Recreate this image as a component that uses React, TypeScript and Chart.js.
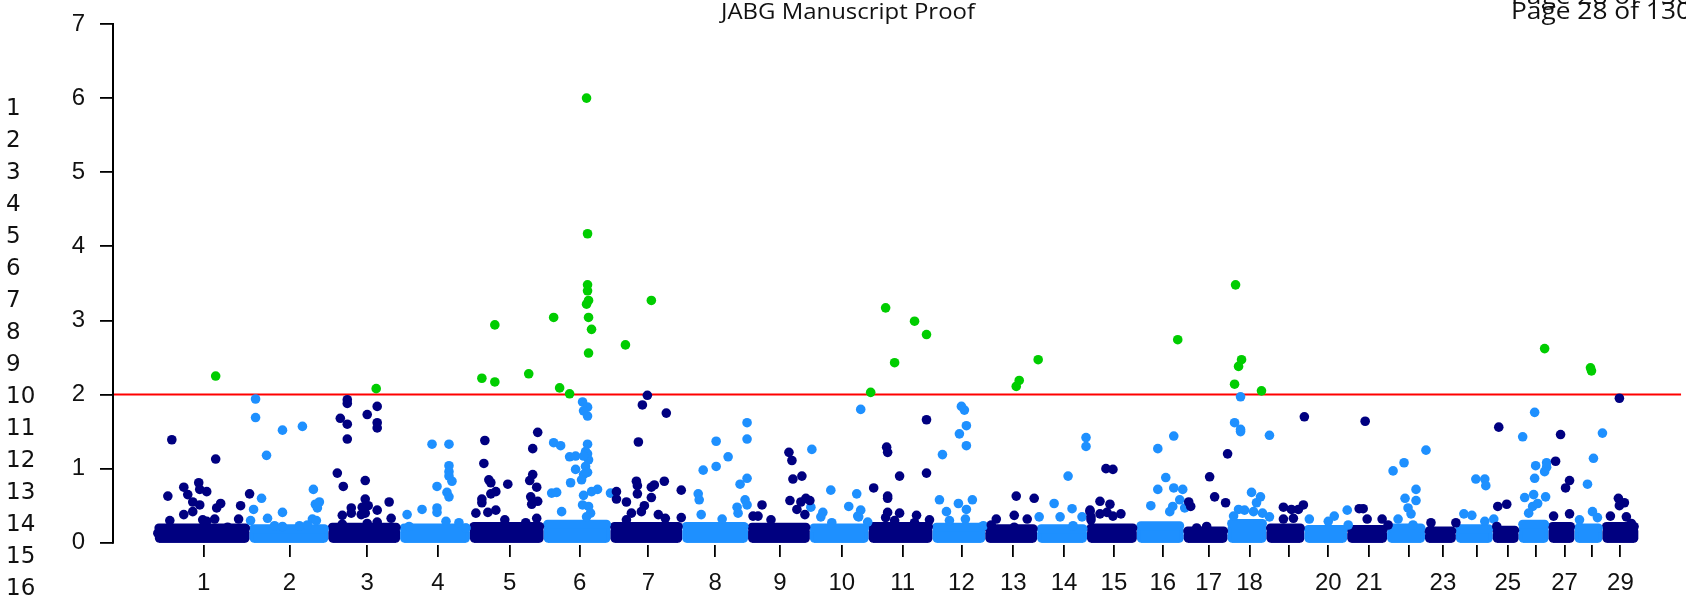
import React, { useEffect, useRef } from "react";
import { Chart, registerables } from "chart.js";

Chart.register(...registerables);

// ---------- data ----------
const CHROMOSOMES = ["1","2","3","4","5","6","7","8","9","10","11","12","13","14","15","16","17","18","19","20","21","22","23","24","25","26","27","28","29"];
// chromosome lengths on the cumulative position axis (arbitrary units)
const CHROM_LENGTHS = [95, 79, 72, 70, 74, 67, 72, 66, 62, 59, 64, 53, 52, 50, 50, 47, 44, 39, 38, 43, 40, 38, 31, 37, 26, 30, 26, 28, 36];
const TICK_POSITIONS = [49, 135, 213, 284, 356, 426, 495, 562, 627, 689, 750, 809, 861, 912, 962, 1011, 1057, 1098, 1137, 1177, 1218, 1258, 1292, 1326, 1357, 1385, 1414, 1441, 1470];
const TICK_LABELS = ["1","2","3","4","5","6","7","8","9","10","11","12","13","14","15","16","17","18","","20","21","","23","","25","","27","","29"];
// centre of the top row of the dense mass of non-significant SNPs per chromosome (-log10 p)
const BAND_TOP = [0.2, 0.19, 0.21, 0.2, 0.22, 0.25, 0.22, 0.22, 0.21, 0.2, 0.22, 0.21, 0.19, 0.19, 0.2, 0.23, 0.16, 0.26, 0.2, 0.18, 0.18, 0.2, 0.16, 0.19, 0.17, 0.25, 0.22, 0.2, 0.22];
const Y_TICKS = [0, 1, 2, 3, 4, 5, 6, 7];
const THRESHOLD = 2;
const LINE_NUMBERS = ["1","2","3","4","5","6","7","8","9","10","11","12","13","14","15","16"];
const HEADER = "JABG Manuscript Proof";
const PAGE_LABEL = "Page 28 of 130";

// individually visible SNPs per chromosome: [cumulative position, -log10 p]
const SNPS: number[][][] = [
  [[61,2.25],[17,1.39],[61,1.13],[13,0.63],[29,0.75],[33,0.65],[44,0.81],[45,0.72],[52,0.69],[38,0.55],[45,0.51],[66,0.53],[62,0.47],[95,0.66],[86,0.5],[84,0.32],[29,0.38],[38,0.42],[15,0.3],[48,0.31],[60,0.32],[52,0.29],[73,0.21],[3,0.13]],
  [[101,1.94],[101,1.69],[128,1.52],[148,1.57],[112,1.18],[159,0.72],[107,0.6],[99,0.45],[128,0.41],[161,0.52],[165,0.55],[163,0.47],[113,0.33],[96,0.3],[158,0.32],[162,0.3],[120,0.23],[128,0.22],[145,0.23],[153,0.24]],
  [[222,2.08],[193,1.93],[193,1.88],[223,1.84],[186,1.68],[213,1.73],[193,1.6],[223,1.62],[223,1.55],[193,1.4],[183,0.94],[211,0.84],[189,0.76],[235,0.55],[211,0.59],[197,0.47],[208,0.48],[214,0.5],[197,0.4],[223,0.44],[207,0.38],[188,0.37],[211,0.4],[188,0.25],[223,0.28],[237,0.33],[213,0.26]],
  [[278,1.33],[295,1.33],[295,1.04],[295,0.96],[295,0.9],[298,0.83],[283,0.76],[293,0.68],[295,0.62],[283,0.47],[283,0.41],[305,0.27],[292,0.29],[312,0.2],[268,0.45],[253,0.38],[255,0.22]],
  [[328,2.22],[341,2.17],[341,2.94],[375,2.28],[384,1.49],[331,1.38],[379,1.27],[330,1.07],[354,0.79],[335,0.85],[337,0.81],[342,0.69],[337,0.66],[328,0.59],[328,0.54],[379,0.92],[376,0.84],[383,0.75],[377,0.62],[384,0.56],[378,0.52],[322,0.4],[334,0.41],[342,0.44],[351,0.31],[372,0.27],[383,0.33]],
  [[433,6.0],[434,4.17],[434,3.48],[434,3.4],[435,3.27],[433,3.22],[400,3.04],[435,3.04],[438,2.88],[435,2.56],[406,2.09],[416,2.01],[429,1.9],[434,1.83],[430,1.78],[434,1.71],[400,1.35],[407,1.31],[434,1.33],[432,1.23],[434,1.2],[435,1.12],[430,1.17],[416,1.16],[422,1.17],[422,0.99],[432,1.03],[434,0.95],[430,0.92],[428,0.85],[417,0.81],[398,0.67],[403,0.68],[430,0.64],[438,0.69],[444,0.72],[408,0.42],[429,0.51],[435,0.49],[457,0.67],[437,0.4],[433,0.35]],
  [[498,3.27],[472,2.67],[494,1.99],[489,1.86],[513,1.75],[485,1.36],[483,0.83],[484,0.77],[484,0.66],[488,0.42],[498,0.75],[501,0.78],[511,0.83],[498,0.61],[491,0.5],[463,0.69],[463,0.59],[473,0.55],[478,0.4],[473,0.31],[528,0.71],[528,0.34],[505,0.38],[512,0.33]],
  [[594,1.62],[594,1.4],[563,1.37],[575,1.16],[563,1.03],[550,0.98],[594,0.87],[587,0.79],[545,0.66],[546,0.58],[592,0.58],[584,0.48],[594,0.51],[548,0.38],[569,0.32],[585,0.4]],
  [[636,1.22],[639,1.11],[649,0.9],[640,0.86],[637,0.57],[648,0.55],[653,0.6],[657,0.57],[609,0.51],[644,0.45],[600,0.36],[605,0.36],[618,0.31],[652,0.38]],
  [[659,1.26],[678,0.71],[704,0.66],[696,0.49],[708,0.44],[668,0.35],[670,0.41],[658,0.48],[708,1.8],[705,0.36],[679,0.27],[715,0.28],[706,0.35]],
  [[733,3.17],[762,2.99],[774,2.81],[742,2.43],[718,2.03],[774,1.66],[734,1.29],[735,1.22],[774,0.94],[747,0.9],[721,0.74],[735,0.63],[735,0.6],[735,0.41],[747,0.4],[733,0.34],[764,0.37],[742,0.3],[777,0.31],[762,0.27]],
  [[809,1.84],[812,1.79],[814,1.58],[807,1.47],[814,1.31],[790,1.19],[787,0.58],[806,0.53],[820,0.58],[794,0.42],[814,0.45],[797,0.3],[813,0.32],[831,0.23]],
  [[864,2.11],[867,2.19],[886,2.47],[864,0.63],[882,0.6],[862,0.37],[875,0.32],[844,0.32],[839,0.24],[862,0.21]],
  [[934,1.42],[934,1.3],[916,0.9],[902,0.53],[920,0.46],[887,0.35],[908,0.35],[930,0.35],[921,0.23]],
  [[954,1.0],[961,0.99],[948,0.56],[958,0.52],[938,0.42],[948,0.39],[955,0.41],[961,0.36],[969,0.39],[939,0.31],[938,0.44],[939,0.35]],
  [[1026,2.74],[1022,1.44],[1006,1.27],[1014,0.88],[1006,0.72],[1022,0.74],[1031,0.72],[1028,0.58],[999,0.5],[1021,0.49],[1018,0.42],[1033,0.47]],
  [[1076,1.2],[1058,0.89],[1063,0.62],[1074,0.54],[1037,0.55],[1039,0.49],[1055,0.22],[1045,0.2]],
  [[1084,3.48],[1090,2.47],[1087,2.38],[1083,2.14],[1110,2.05],[1089,1.97],[1083,1.62],[1089,1.53],[1089,1.5],[1118,1.45],[1100,0.68],[1109,0.62],[1105,0.54],[1087,0.45],[1093,0.44],[1102,0.42],[1111,0.4],[1118,0.35],[1082,0.36]],
  [[1153,1.7],[1132,0.48],[1140,0.45],[1147,0.45],[1152,0.51],[1132,0.32],[1142,0.33]],
  [[1196,0.44],[1183,0.36],[1177,0.29],[1158,0.32],[1197,0.24]],
  [[1214,1.64],[1208,0.46],[1212,0.46],[1216,0.32],[1231,0.32],[1237,0.24]],
  [[1275,1.25],[1253,1.08],[1242,0.97],[1265,0.72],[1254,0.6],[1265,0.57],[1257,0.47],[1260,0.39],[1247,0.32],[1262,0.24]],
  [[1280,0.27],[1305,0.27]],
  [[1325,0.86],[1334,0.86],[1335,0.77],[1313,0.39],[1321,0.37],[1343,0.32],[1334,0.29]],
  [[1348,1.56],[1347,0.49],[1356,0.52],[1346,0.22]],
  [[1394,2.62],[1384,1.76],[1372,1.43],[1385,1.04],[1384,0.87],[1394,0.96],[1396,1.02],[1396,1.08],[1374,0.61],[1383,0.65],[1395,0.62],[1382,0.49],[1387,0.53],[1378,0.4]],
  [[1410,1.46],[1405,1.1],[1419,0.84],[1415,0.74],[1403,0.36],[1419,0.39]],
  [[1440,2.36],[1441,2.32],[1452,1.48],[1443,1.14],[1437,0.79],[1442,0.42],[1447,0.34],[1429,0.31]],
  [[1469,1.95],[1468,0.6],[1474,0.54],[1469,0.5],[1460,0.36],[1476,0.35],[1481,0.26]],
];

const X_MIN = -42;
const X_MAX = 1531;

const NAVY = "#000080";
const LIGHT = "#1E90FF";
const GREEN = "#00CD00";
const AXIS_FONT = "'Liberation Sans', Arial, sans-serif";
const PAGE_FONT = "'Open Sans', 'Noto Sans', sans-serif";
const NUMBER_FONT = "'DejaVu Sans', sans-serif";

const chromColor = (i: number) => (i % 2 === 0 ? NAVY : LIGHT);

export default function App() {
  const ref = useRef<HTMLCanvasElement | null>(null);

  useEffect(() => {
    document.body.style.margin = "0";
    const canvas = ref.current!;
    const starts: number[] = [];
    let acc = 0;
    CHROM_LENGTHS.forEach((len) => { starts.push(acc); acc += len; });

    const navyPts: { x: number; y: number }[] = [];
    const lightPts: { x: number; y: number }[] = [];
    const greenPts: { x: number; y: number }[] = [];
    SNPS.forEach((list, ci) => {
      list.forEach(([x, y]) => {
        const p = { x, y };
        if (y > THRESHOLD) greenPts.push(p);
        else if (ci % 2 === 0) navyPts.push(p);
        else lightPts.push(p);
      });
    });

    const bandSets: any[] = CHROM_LENGTHS.map((len, i) => ({
      type: "line",
      label: "chr" + CHROMOSOMES[i],
      data: [{ x: starts[i] + 4, y: BAND_TOP[i] }, { x: starts[i] + len - 4, y: BAND_TOP[i] }],
      backgroundColor: chromColor(i),
      borderColor: chromColor(i),
      borderWidth: 9,
      borderCapStyle: "round",
      pointRadius: 0,
      fill: "origin",
      clip: false,
      order: 4,
    }));

    const pointStyle = { pointRadius: 4.8, pointHoverRadius: 4.8, pointBorderWidth: 0, borderWidth: 0, clip: false as any };

    const drawFitted = (ctx: any, text: string, x: number, yb: number, size: number, scaleX: number, align: string) => {
      ctx.save();
      ctx.font = `${size}px ${PAGE_FONT}`;
      ctx.textAlign = align;
      ctx.translate(x, yb);
      ctx.scale(scaleX, 1);
      ctx.fillText(text, 0, 0);
      ctx.restore();
    };

    const overlay = {
      id: "overlay",
      beforeDatasetsDraw(chart: any) {
        const { ctx, scales } = chart;
        const x = scales.x, y = scales.y;
        ctx.save();
        CHROM_LENGTHS.forEach((len, i) => {
          ctx.fillStyle = chromColor(i);
          const y0 = y.getPixelForValue(0);
          const yt = y.getPixelForValue(BAND_TOP[i]);
          const xl = x.getPixelForValue(starts[i]);
          const xr = x.getPixelForValue(starts[i] + len);
          ctx.beginPath();
          ctx.roundRect(xl, yt, xr - xl, y0 - yt, 4.5);
          ctx.fill();
        });
        ctx.restore();
      },
      afterDraw(chart: any) {
        const { ctx, scales } = chart;
        const y = scales.y;
        ctx.save();
        // y axis line from 0 to 7
        ctx.strokeStyle = "#000";
        ctx.lineWidth = 2;
        ctx.beginPath();
        ctx.moveTo(chart.chartArea.left, y.getPixelForValue(0) + 1);
        ctx.lineTo(chart.chartArea.left, y.getPixelForValue(7) - 1);
        ctx.stroke();
        // margin line numbers
        ctx.fillStyle = "#111";
        ctx.font = `23px ${NUMBER_FONT}`;
        ctx.textAlign = "left";
        ctx.textBaseline = "alphabetic";
        LINE_NUMBERS.forEach((t, i) => ctx.fillText(t, 6, 115 + i * 31.98));
        // header
        const size = 22;
        ctx.font = `${size}px ${PAGE_FONT}`;
        const sx = 254 / ctx.measureText(HEADER).width;
        drawFitted(ctx, HEADER, 848, 19, size, sx, "center");
        drawFitted(ctx, PAGE_LABEL, 1511, 19, size * 1.1, sx, "left");
        drawFitted(ctx, PAGE_LABEL, 1511, 4, size * 1.1, sx, "left");
        ctx.restore();
      },
    };

    const chart = new Chart(canvas, {
      type: "scatter",
      data: {
        datasets: [
          { label: "significant", data: greenPts, backgroundColor: GREEN, ...pointStyle, order: 0 } as any,
          { label: "odd", data: navyPts, backgroundColor: NAVY, ...pointStyle, order: 1 } as any,
          { label: "even", data: lightPts, backgroundColor: LIGHT, ...pointStyle, order: 1 } as any,
          {
            type: "line",
            label: "threshold",
            data: [{ x: X_MIN, y: THRESHOLD }, { x: X_MAX, y: THRESHOLD }],
            borderColor: "#FF0000",
            borderWidth: 2,
            pointRadius: 0,
            fill: false,
            order: 2,
          } as any,
          ...bandSets,
        ],
      },
      options: {
        animation: false,
        responsive: false,
        devicePixelRatio: 1,
        events: [],
        layout: { padding: { top: 24, left: 0, right: 0, bottom: 0 } },
        plugins: { legend: { display: false }, tooltip: { enabled: false }, title: { display: false } },
        scales: {
          x: {
            type: "linear",
            min: X_MIN,
            max: X_MAX,
            afterFit: (s: any) => { s.height = 58; s.paddingLeft = 0; s.paddingRight = 0; },
            afterBuildTicks: (s: any) => { s.ticks = TICK_POSITIONS.map((v) => ({ value: v })); },
            border: { display: false },
            grid: { drawOnChartArea: false, drawTicks: true, tickLength: 12, color: "#000", lineWidth: 1.8 },
            ticks: {
              autoSkip: false,
              maxRotation: 0,
              padding: 12,
              color: "#111",
              font: { family: AXIS_FONT, size: 24 },
              callback: (_v: any, i: number) => TICK_LABELS[i],
            },
          },
          y: {
            type: "linear",
            min: -0.03,
            max: 7,
            afterFit: (s: any) => { s.width = 113; s.paddingTop = 0; s.paddingBottom = 0; },
            afterBuildTicks: (s: any) => { s.ticks = Y_TICKS.map((v) => ({ value: v })); },
            border: { display: false },
            grid: { drawOnChartArea: false, drawTicks: true, tickLength: 13, color: "#000", lineWidth: 1.8 },
            ticks: {
              padding: 15,
              color: "#111",
              font: { family: AXIS_FONT, size: 24 },
              callback: (v: any) => String(v),
            },
          },
        },
      },
      plugins: [overlay],
    } as any);

    return () => chart.destroy();
  }, []);

  return (
    <canvas ref={ref} width={1686} height={603} style={{ display: "block", width: 1686, height: 603 }} />
  );
}
